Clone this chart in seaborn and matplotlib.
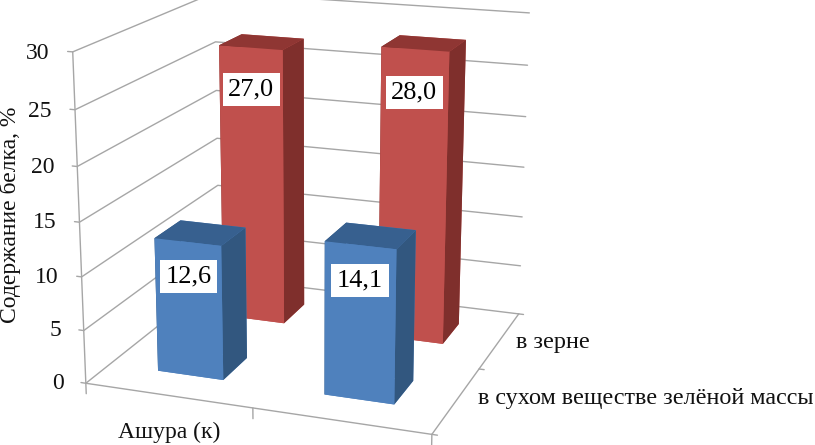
import numpy as np
import pandas as pd
import matplotlib
matplotlib.use('Agg')
import matplotlib.pyplot as plt
import seaborn as sns

groups = ['Ашура (к)', '']
rows = ['в сухом веществе зелёной массы', 'в зерне']
green_mass = [12.6, 14.1]
grain = [27.0, 28.0]
value_labels_green = ['12,6', '14,1']
value_labels_grain = ['27,0', '28,0']
z_ticks = [0, 5, 10, 15, 20, 25, 30]
y_title = 'Содержание белка, %'

sns.set_theme(style='white')
plt.rcParams['font.family'] = ['Liberation Serif', 'DejaVu Sans']

blue = sns.color_palette(['#4f81bd', '#37608f', '#32577f'])
red = sns.color_palette(['#c0504d', '#8f3633', '#7f2f2c'])
grid = '#a6a6a6'

df = pd.DataFrame({'group': groups * 2,
                   'row': [0, 0, 1, 1],
                   'value': green_mass + grain,
                   'label': value_labels_green + value_labels_grain})

fig = plt.figure(figsize=(8.15, 4.45), dpi=100)
fig.patch.set_facecolor('white')
# big square axes so nothing gets clipped at the edge of the 3d box
ax = fig.add_axes([-0.129, -0.374, 1.0, 1.83], projection='3d', computed_zorder=False)
ax.set_proj_type('persp', focal_length=0.4)
ax.view_init(elev=16.5, azim=-70)
ax.set_box_aspect((4.05, 3.85, 3.8), zoom=0.697)
ax.set_xlim(0, 2)
ax.set_ylim(0, 2)
ax.set_zlim(0, 30)
ax.set_axis_off()
ax.patch.set_alpha(0)

# walls
for z in z_ticks:
    ax.plot([-0.03, 0, 0, 2], [0, 0, 2, 2], [z, z, z, z], color=grid, lw=1, zorder=1)
ax.plot([0, 0], [0, 0], [0, 30], color=grid, lw=1, zorder=1)
ax.plot([0, 2, 2], [0, 0, 2], [0, 0, 0], color=grid, lw=1, zorder=1)
for i in range(3):
    ax.plot([i, i], [0, 0], [0, -1], color=grid, lw=1, zorder=1)
    ax.plot([2, 2.03], [i, i], [0, 0], color=grid, lw=1, zorder=1)

# back to front so the bars overlap properly
for r in [1, 0]:
    sub = df[df['row'] == r].reset_index(drop=True)
    cols = red if r == 1 else blue
    for i, row in sub.iterrows():
        faces = [cols[0], cols[1], cols[0], cols[0], cols[2], cols[2]]
        ax.bar3d(i + 0.3, r + 0.32, 0, 0.4, 0.37, row['value'], color=faces,
                 shade=False, linewidth=0, zorder=20 - r * 10 + i)
        ax.text(i + 0.5, r + 0.32, row['value'] - (4.0 if r == 1 else 3.2), row['label'],
                ha='center', va='center', fontsize=19, color='black', zorder=50,
                bbox=dict(facecolor='white', edgecolor='none', pad=4))

for z in z_ticks:
    ax.text(-0.14, 0, z - 0.3, str(z), ha='right', va='center', fontsize=17, color='#111111')
ax.text(0.5, 0, -3.5, groups[0], ha='center', va='center', fontsize=17, color='#111111')
ax.text(2.1, 1.5, 0, rows[1], ha='left', va='center', fontsize=17.4, color='#111111')
ax.text(2.12, 0.5, 0.4, rows[0], ha='left', va='center', fontsize=17.4, color='#111111')
fig.text(0.012, 0.517, y_title, rotation=90, ha='center', va='center', fontsize=17, color='#111111')

fig.savefig('out.png', dpi=100)
